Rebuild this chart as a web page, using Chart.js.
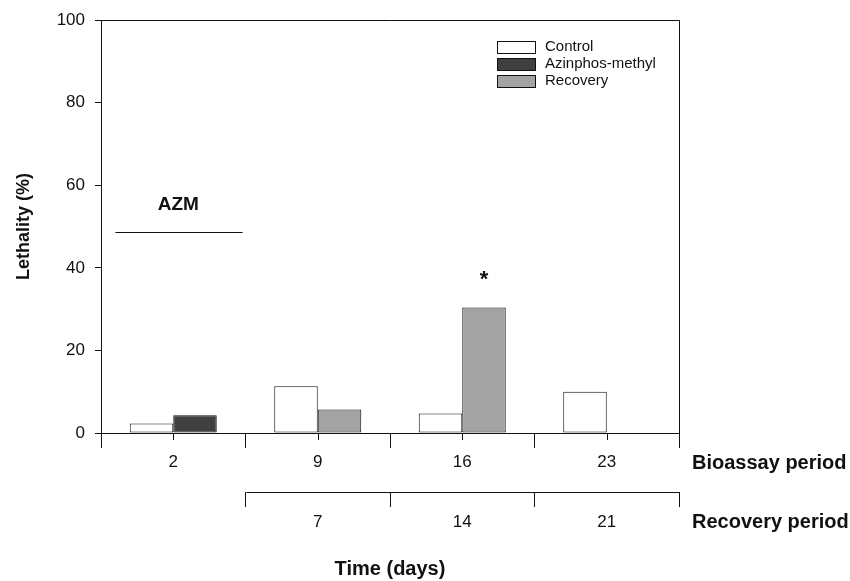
<!DOCTYPE html>
<html>
<head>
<meta charset="utf-8">
<script src="https://cdn.jsdelivr.net/npm/chart.js@4.4.0/dist/chart.umd.min.js"></script>
<style>
  html, body { margin: 0; padding: 0; background: #fff; }
  #wrap { width: 850px; height: 581px; }
</style>
</head>
<body>
<div id="wrap"><canvas id="chart"></canvas></div>
<script>
// bioassay day on the first row, recovery day on the second
const bioassayDays = ["2", "9", "16", "23"];
const recoveryDays = ["", "7", "14", "21"];
const seriesNames = ["Control", "Azinphos-methyl", "Recovery"];
const controlValues = [2.3, 11.3, 4.7, 10.0];
const azmValues = [4.3, null, null, null];
const recoveryValues = [null, 5.7, 30.4, 0];
const yTicks = [0, 20, 40, 60, 80, 100];
// exposure bar over the first group (category units) and its level (%)
const azmSpan = [-0.4, 0.48];
const azmLevel = 48.7;
const azmLabelLevel = 55.4;

const FONT = "'Liberation Sans', Arial, Helvetica, sans-serif";
const INK = "#111111";

const extras = {
  id: "extras",
  afterDraw(chart) {
    const c = chart.ctx;
    const area = chart.chartArea;
    const x = chart.scales.x;
    const x2 = chart.scales.x2;
    const y = chart.scales.y;
    const step = x.getPixelForValue(1) - x.getPixelForValue(0);
    const px = (v) => Math.round(v) + 0.5;

    c.save();
    c.strokeStyle = INK;
    c.lineWidth = 1;

    // top and right frame
    c.beginPath();
    c.moveTo(area.left, px(area.top));
    c.lineTo(px(area.right), px(area.top));
    c.lineTo(px(area.right), area.bottom);
    c.stroke();

    // short ticks under each group
    c.beginPath();
    for (let i = 0; i < bioassayDays.length; i++) {
      const gx = px(x.getPixelForValue(i));
      c.moveTo(gx, x.top);
      c.lineTo(gx, x.top + 7);
    }
    c.stroke();

    // recovery axis line starts at the second group
    c.beginPath();
    c.moveTo(px(x2.getPixelForValue(1) - step / 2), px(x2.top));
    c.lineTo(px(area.right), px(x2.top));
    c.stroke();

    // AZM exposure bar
    const ly = px(y.getPixelForValue(azmLevel));
    c.beginPath();
    c.moveTo(x.getPixelForValue(0) + azmSpan[0] * step, ly);
    c.lineTo(x.getPixelForValue(0) + azmSpan[1] * step, ly);
    c.stroke();

    c.fillStyle = INK;
    c.textAlign = "center";
    c.textBaseline = "middle";
    c.font = "bold 19px " + FONT;
    c.fillText("AZM", x.getPixelForValue(0) + 5, y.getPixelForValue(azmLabelLevel));

    // significance mark over the recovery bar at day 16
    const bar = chart.getDatasetMeta(2).data[2];
    c.font = "bold 22px " + FONT;
    c.textBaseline = "alphabetic";
    c.fillText("*", bar.x, bar.y - 22);

    // row titles on the right
    c.textAlign = "left";
    c.textBaseline = "middle";
    c.font = "bold 20px " + FONT;
    c.fillText("Bioassay period", area.right + 13, x.top + 30);
    c.fillText("Recovery period", area.right + 13, x2.top + 30);

    // legend
    c.font = "15px " + FONT;
    chart.data.datasets.forEach((ds, i) => {
      const ry = 47 + i * 17;
      c.fillStyle = ds.backgroundColor;
      c.fillRect(497, ry - 6, 38, 12);
      c.strokeStyle = INK;
      c.strokeRect(497.5, ry - 5.5, 38, 12);
      c.fillStyle = INK;
      c.fillText(ds.label, 545, ry);
    });
    c.restore();
  },
};

new Chart(document.getElementById("chart"), {
  type: "bar",
  data: {
    labels: bioassayDays,
    datasets: [
      { label: seriesNames[0], data: controlValues, backgroundColor: "#ffffff" },
      { label: seriesNames[1], data: azmValues, backgroundColor: "#404040" },
      { label: seriesNames[2], data: recoveryValues, backgroundColor: "#a3a3a3" },
    ].map((d) => Object.assign(d, {
      borderColor: INK,
      borderWidth: 1,
      borderSkipped: false,
      skipNull: true,
      categoryPercentage: 0.602,
      barPercentage: 1,
    })),
  },
  options: {
    responsive: true,
    maintainAspectRatio: false,
    animation: false,
    layout: { padding: { left: 0, top: 17, right: 171, bottom: 0 } },
    plugins: {
      legend: { display: false },
      tooltip: { enabled: false },
    },
    scales: {
      y: {
        min: 0,
        max: 100,
        afterFit: (s) => { s.width = 101; },
        afterBuildTicks: (s) => { s.ticks = yTicks.map((v) => ({ value: v })); },
        border: { color: INK, width: 1 },
        grid: { drawOnChartArea: false, tickLength: 6, color: INK },
        ticks: { color: INK, font: { family: FONT, size: 17 }, padding: 10 },
        title: {
          display: true,
          text: "Lethality (%)",
          color: INK,
          font: { family: FONT, size: 18, weight: "bold" },
          padding: { top: 13, bottom: 0 },
        },
      },
      x: {
        type: "category",
        position: "bottom",
        weight: 1,
        offset: true,
        afterFit: (s) => { s.height = 59; },
        border: { color: INK, width: 1 },
        grid: { offset: true, drawOnChartArea: false, tickLength: 15, color: INK },
        ticks: { color: INK, font: { family: FONT, size: 17 }, padding: 4, maxRotation: 0 },
      },
      x2: {
        type: "category",
        position: "bottom",
        weight: 2,
        labels: recoveryDays,
        offset: true,
        afterFit: (s) => { s.height = 89; },
        border: { display: false },
        grid: {
          offset: true,
          drawOnChartArea: false,
          tickLength: 15,
          color: (ctx) => (ctx.index === 0 ? "rgba(0,0,0,0)" : INK),
        },
        ticks: { color: INK, font: { family: FONT, size: 17 }, padding: 5, maxRotation: 0 },
        title: {
          display: true,
          text: "Time (days)",
          color: INK,
          font: { family: FONT, size: 20, weight: "bold" },
          padding: { top: 0, bottom: 0 },
        },
      },
    },
  },
  plugins: [extras],
});
</script>
</body>
</html>
